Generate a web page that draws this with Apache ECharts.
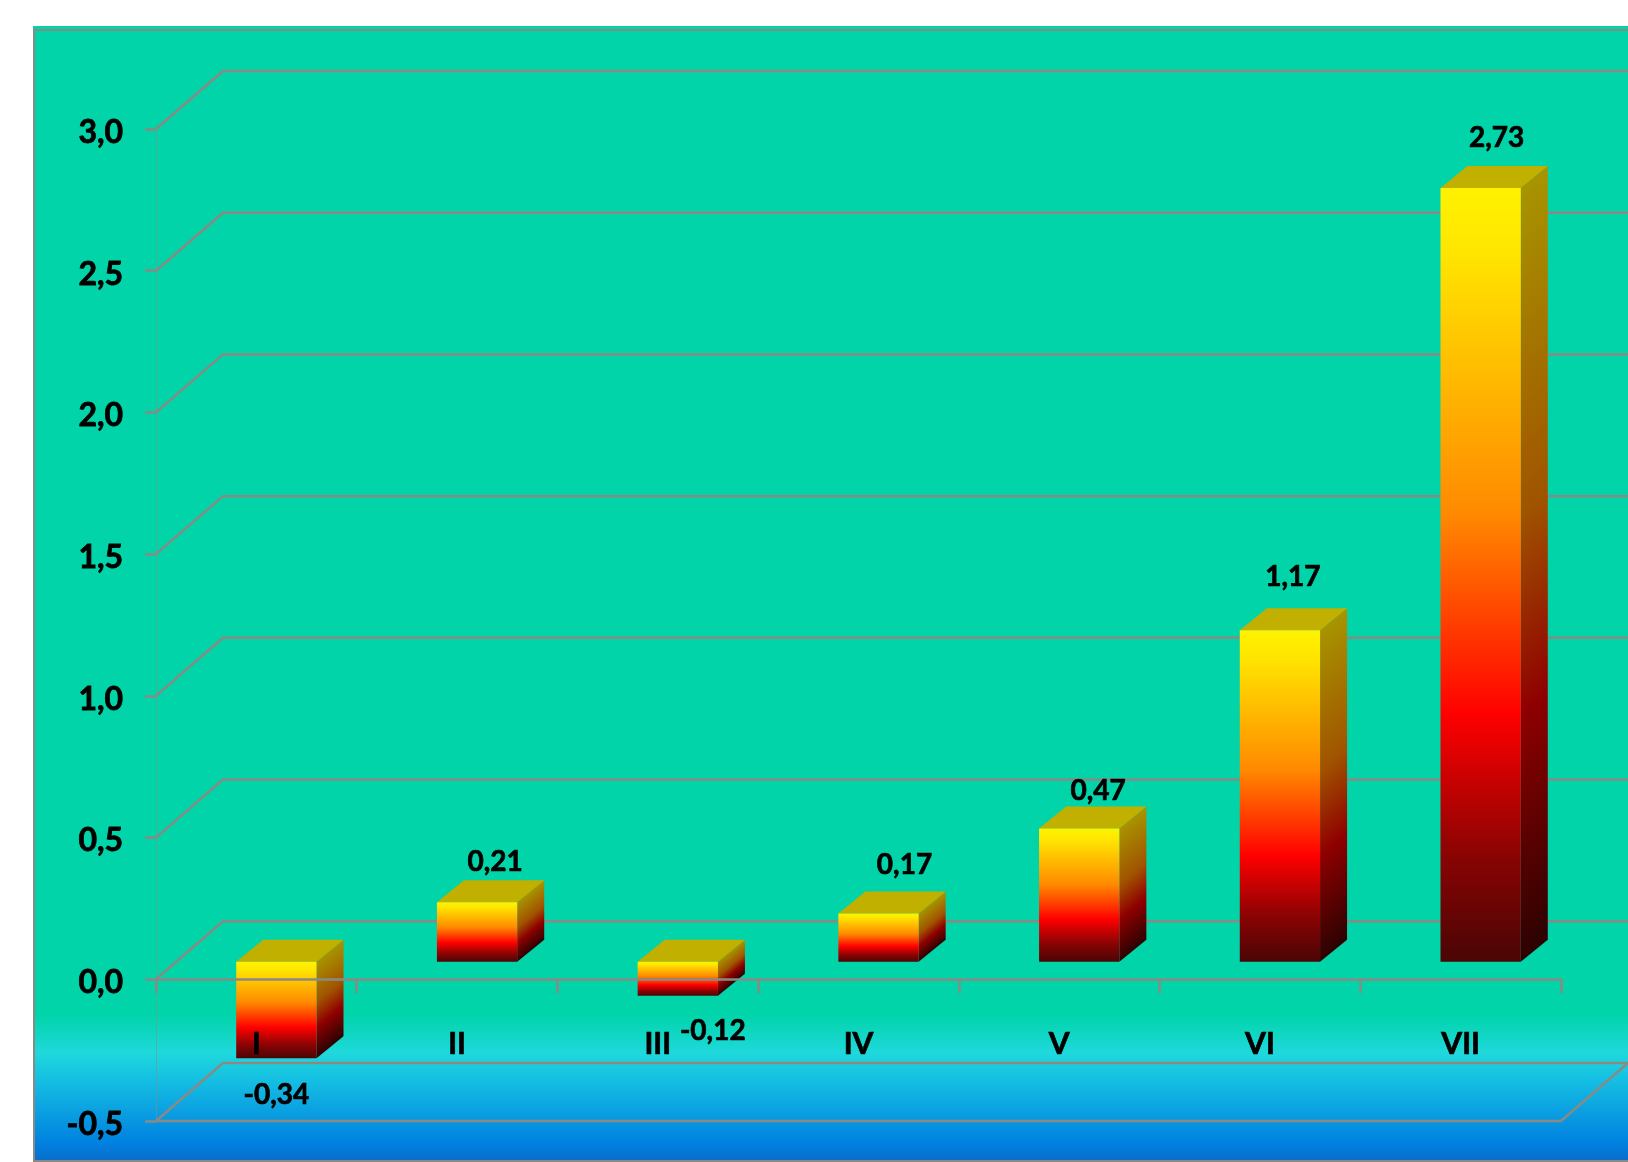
<!DOCTYPE html>
<html>
<head>
<meta charset="utf-8">
<style>html,body{margin:0;padding:0;background:#fff}#chart{width:1628px;height:1162px}</style>
<script src="https://cdn.jsdelivr.net/npm/echarts@6/dist/echarts.min.js"></script>
</head>
<body>
<div id="chart"></div>
<script>
// Chart values
const categories = ['I', 'II', 'III', 'IV', 'V', 'VI', 'VII'];
const values = [-0.34, 0.21, -0.12, 0.17, 0.47, 1.17, 2.73];
const yTicks = [-0.5, 0, 0.5, 1, 1.5, 2, 2.5, 3];

// Value label placement relative to the centre of each column's front face
const labelShift = [[0, 37], [18, -40], [35, 35], [26, -49], [19, -38], [13, -53], [16, -50]];

// Pseudo-3D geometry, in pixels
const WALL_DX = 67, WALL_DY = 58;      // floor and back wall depth
const BAR_DX = 27, BAR_DY = 22;        // column depth
const BAR_RATIO = 0.4;                 // column width as a share of the band
const BAR_SHIFT_X = 20, BAR_SHIFT_Y = -17.5; // columns stand inside the box

const FONT = 'Lato, "Open Sans", sans-serif';
const LINE = '#8a8a84';
const { LinearGradient } = echarts.graphic;

const frontStops = [
  { offset: 0, color: '#fff200' }, { offset: 0.08, color: '#ffe600' },
  { offset: 0.42, color: '#ff8a00' }, { offset: 0.68, color: '#ff0000' },
  { offset: 0.86, color: '#8c0303' }, { offset: 1, color: '#4a0505' }
];
const sideStops = [
  { offset: 0, color: '#a89400' }, { offset: 0.42, color: '#a05400' },
  { offset: 0.68, color: '#8f0000' }, { offset: 1, color: '#2c0202' }
];

const tickText = v => v.toFixed(1).replace('.', ',');
const valueText = v => v.toFixed(2).replace('.', ',');

// Horizontal gridlines with their slanted return along the left wall
function renderWall(params, api) {
  const sys = params.coordSys;
  const v = api.value(0);
  const y = api.coord([0, v])[1];
  const left = sys.x, right = sys.x + sys.width;
  const style = { stroke: LINE, lineWidth: 2.5, fill: null };
  const children = [{
    type: 'polyline',
    shape: { points: [[left, y], [left + WALL_DX, y - WALL_DY], [1640, y - WALL_DY]] },
    style
  }];
  if (v === yTicks[0]) {
    // Front edge and right edge of the floor
    children.push({
      type: 'polyline',
      shape: { points: [[left, y], [right, y], [right + WALL_DX, y - WALL_DY]] },
      style
    });
  }
  return { type: 'group', children };
}

// One column: front face, top face, side face and its value label
function renderColumn(params, api) {
  const i = api.value(0), v = api.value(1);
  const band = api.size([1, 0])[0];
  const w = band * BAR_RATIO;
  const centre = api.coord([i, 0])[0] + BAR_SHIFT_X;
  const y0 = api.coord([i, 0])[1] + BAR_SHIFT_Y;
  const y1 = api.coord([i, v])[1] + BAR_SHIFT_Y;
  const top = Math.min(y0, y1), bottom = Math.max(y0, y1);
  const xl = centre - w / 2, xr = centre + w / 2;
  const h = bottom - top;

  // Side face shading runs across the slanted edges
  const len2 = BAR_DX * BAR_DX + BAR_DY * BAR_DY;
  const k = h * BAR_DX / len2;
  const sideFill = new LinearGradient(xr, top, xr + BAR_DY * k, top + BAR_DX * k, sideStops, true);

  const shift = labelShift[i];
  return {
    type: 'group',
    children: [
      {
        type: 'polygon',
        shape: { points: [[xr, top], [xr + BAR_DX, top - BAR_DY], [xr + BAR_DX, bottom - BAR_DY], [xr, bottom]] },
        style: { fill: sideFill }
      },
      {
        type: 'polygon',
        shape: { points: [[xl, top], [xl + BAR_DX, top - BAR_DY], [xr + BAR_DX, top - BAR_DY], [xr, top]] },
        style: { fill: '#c2b000' }
      },
      {
        type: 'rect',
        shape: { x: xl, y: top, width: w, height: h },
        style: { fill: new LinearGradient(0, top, 0, bottom, frontStops, true) }
      },
      {
        type: 'text',
        style: {
          x: centre + shift[0], y: (v < 0 ? bottom : top) + shift[1],
          text: valueText(v), fill: '#000', align: 'center', verticalAlign: 'middle',
          font: 'bold 28px ' + FONT, stroke: '#000', lineWidth: 0.7
        }
      }
    ]
  };
}

const chart = echarts.init(document.getElementById('chart'), null, { renderer: 'canvas' });
chart.setOption({
  animation: false,
  backgroundColor: '#fff',
  graphic: [{
    type: 'rect', z: -2, silent: true,
    shape: { x: 33, y: 26, width: 1640, height: 1135 },
    style: {
      fill: new LinearGradient(0, 0, 0, 1, [
        { offset: 0, color: '#00d4a8' }, { offset: 0.87, color: '#00d4a8' },
        { offset: 0.905, color: '#1fd8dc' }, { offset: 0.93, color: '#14bde2' },
        { offset: 0.985, color: '#0080e0' }, { offset: 1, color: '#0a6cc8' }
      ])
    }
  }, {
    type: 'rect', z: -1, silent: true,
    shape: { x: 34, y: 30, width: 1640, height: 1131 },
    style: { fill: null, stroke: LINE, lineWidth: 2 }
  }],
  grid: { left: 156, top: 129, width: 1405, height: 992, containLabel: false, outerBoundsMode: 'none' },
  xAxis: {
    type: 'category',
    data: categories,
    z: 5,
    axisLine: { onZero: true, lineStyle: { color: LINE, width: 2.5 } },
    axisTick: { show: true, length: 14, alignWithLabel: false, lineStyle: { color: LINE, width: 2.5 } },
    axisLabel: {
      margin: -92, color: '#000', fontFamily: FONT, fontWeight: 'bold', fontSize: 30,
      textBorderColor: '#000', textBorderWidth: 0.7
    },
    splitLine: { show: false }
  },
  yAxis: {
    type: 'value',
    min: yTicks[0],
    max: yTicks[yTicks.length - 1],
    interval: 0.5,
    z: 5,
    axisLine: { show: true, lineStyle: { color: LINE, width: 1, opacity: 0.55 } },
    axisTick: { show: true, length: 11, lineStyle: { color: LINE, width: 2.5 } },
    axisLabel: {
      margin: 33, color: '#000', fontFamily: FONT, fontWeight: 'bold', fontSize: 32,
      textBorderColor: '#000', textBorderWidth: 0.8,
      verticalAlign: 'top', lineHeight: 7, formatter: tickText
    },
    splitLine: { show: false }
  },
  series: [
    {
      type: 'custom', name: 'walls', z: 1, silent: true,
      coordinateSystem: 'cartesian2d',
      data: yTicks.map(v => [v]),
      encode: { y: 0 },
      renderItem: renderWall
    },
    {
      type: 'custom', name: 'columns', z: 3, silent: true,
      coordinateSystem: 'cartesian2d',
      data: values.map((v, i) => [i, v]),
      encode: { x: 0, y: 1 },
      renderItem: renderColumn
    }
  ]
});
</script>
</body>
</html>
